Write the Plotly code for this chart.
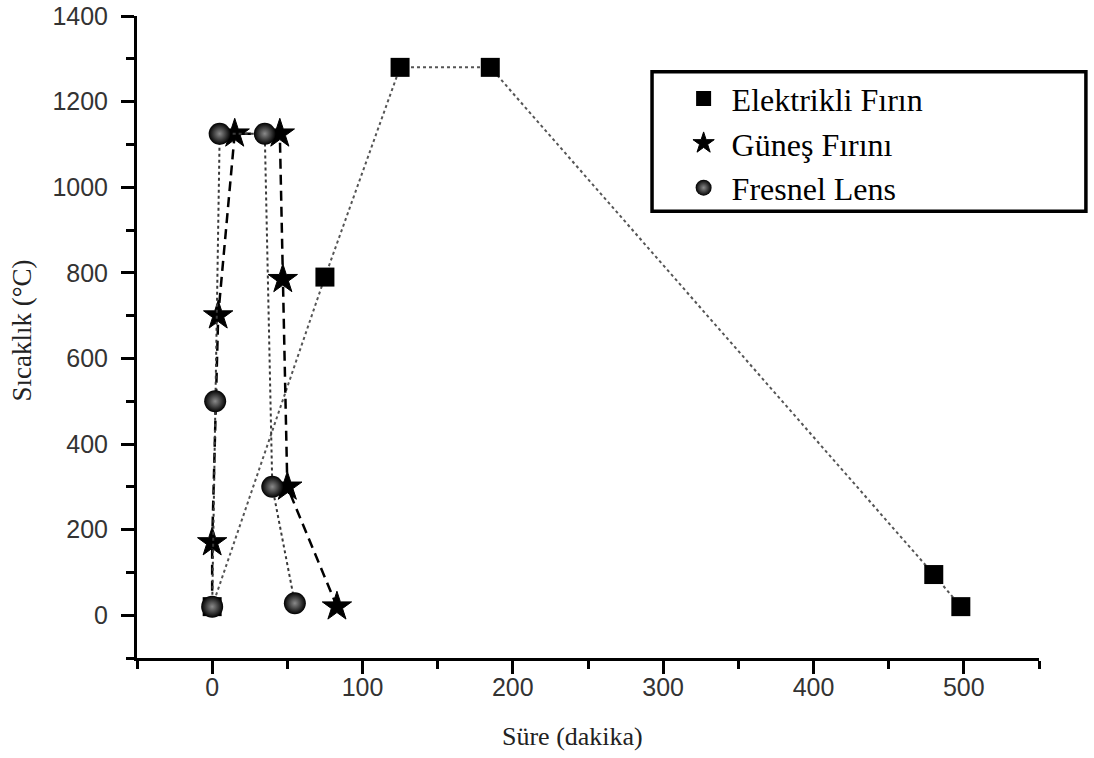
import plotly.graph_objects as go

# ---- data ----
elek_x = [0, 75, 125, 185, 480, 498]
elek_y = [20, 790, 1280, 1280, 95, 20]

gunes_x = [0, 0, 4, 15, 45, 47, 50, 83]
gunes_y = [20, 170, 700, 1125, 1125, 785, 300, 20]

fres_x = [0, 2, 5, 35, 40, 55]
fres_y = [20, 500, 1125, 1125, 300, 28]

names = ["Elektrikli Fırın", "Güneş Fırını", "Fresnel Lens"]
x_title = "Süre (dakika)"
y_title = "Sıcaklık (°C)"

# ---- styles ----
gunes_sizes = [0] + [22] * (len(gunes_x) - 1)

serif = "Liberation Serif, Times New Roman, serif"
sans = "Liberation Sans, Arial, sans-serif"

sq_marker = dict(symbol="square", size=19, color="black", opacity=1, line=dict(width=0))
star_marker = dict(symbol="star", color="black", opacity=1, line=dict(width=1, color="black"))
ball_marker = dict(symbol="circle", size=22, color="black", opacity=1,
                   gradient=dict(type="radial", color="#8a8a8a"), line=dict(width=0))

fig = go.Figure()
fig.add_trace(go.Scatter(
    x=elek_x, y=elek_y, name=names[0], mode="lines+markers", showlegend=False,
    line=dict(color="#555555", width=2, dash="dot"), marker=sq_marker,
))
fig.add_trace(go.Scatter(
    x=gunes_x, y=gunes_y, name=names[1], mode="lines+markers", showlegend=False,
    line=dict(color="black", width=2.5, dash="10px,6px"),
    marker=dict(star_marker, size=gunes_sizes),
))
fig.add_trace(go.Scatter(
    x=fres_x, y=fres_y, name=names[2], mode="lines+markers", showlegend=False,
    line=dict(color="#3a3a3a", width=2, dash="dot"), marker=ball_marker,
))

# legend entries (markers only, as in the reference)
legend_markers = [dict(sq_marker, size=15), dict(star_marker, size=19), dict(ball_marker, size=18)]
for i, (nm, mk) in enumerate(zip(names, legend_markers)):
    fig.add_trace(go.Scatter(x=[None], y=[None], mode="markers", name="\u00a0" + nm,
                             marker=mk, legendgroup=str(i), showlegend=True))

# legend frame
fig.add_shape(type="rect", xref="paper", yref="paper",
              x0=0.571, x1=1.052, y0=0.696, y1=0.913,
              line=dict(color="black", width=3.5), fillcolor="white", layer="below")

fig.add_annotation(text=x_title, xref="paper", yref="paper", x=0.483, y=-0.123,
                   xanchor="center", yanchor="middle",
                   showarrow=False, font=dict(family=serif, size=26, color="#222"))
fig.add_annotation(text=y_title, xref="paper", yref="paper", x=-0.1275, y=0.51,
                   xanchor="center", yanchor="middle",
                   textangle=-90, showarrow=False,
                   font=dict(family=serif, size=27, color="#222"))

axis_common = dict(
    showline=True, linecolor="black", linewidth=3, mirror=False,
    ticks="outside", ticklen=13, tickwidth=2.5, tickcolor="black",
    showgrid=False, zeroline=False, automargin=False,
    tickfont=dict(family=sans, size=25, color="#333333"),
)

fig.update_xaxes(range=[-50, 550], tick0=0, dtick=100,
                 minor=dict(ticks="outside", ticklen=8, tickwidth=2.5, tickcolor="black", dtick=50, tick0=0, showgrid=False),
                 ticklabelstandoff=-8, **axis_common)
fig.update_yaxes(range=[-100, 1400], tick0=0, dtick=200,
                 minor=dict(ticks="outside", ticklen=8, tickwidth=2.5, tickcolor="black", dtick=100, tick0=0, showgrid=False),
                 ticklabelstandoff=8, **axis_common)

fig.update_layout(
    width=1094, height=758,
    margin=dict(l=137, r=55, t=16, b=100, autoexpand=False),
    paper_bgcolor="white", plot_bgcolor="white",
    showlegend=True,
    legend=dict(x=0.606, y=0.914, xanchor="left", yanchor="top",
                bgcolor="rgba(0,0,0,0)", borderwidth=0,
                font=dict(family=serif, size=32, color="black"),
                itemsizing="trace", tracegroupgap=0),
)

fig.write_html("out.html")
